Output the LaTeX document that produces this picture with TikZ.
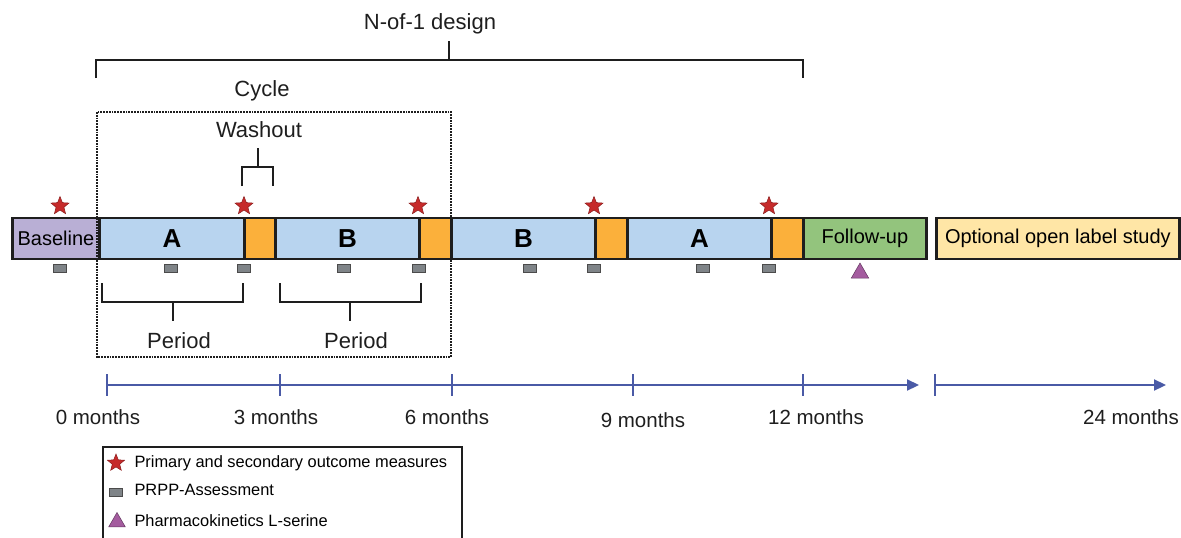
\documentclass[tikz,border=0pt]{standalone}
\usepackage{fontspec}
\setmainfont{Liberation Sans}
\usetikzlibrary{shapes.geometric,arrows.meta}

\definecolor{basecol}{HTML}{B9AFD5}
\definecolor{treatcol}{HTML}{B8D4EF}
\definecolor{washcol}{HTML}{FBB03B}
\definecolor{followcol}{HTML}{93C47D}
\definecolor{opencol}{HTML}{FFE6A6}
\definecolor{starcol}{HTML}{C62B2B}
\definecolor{prppcol}{HTML}{7F8488}
\definecolor{pkcol}{HTML}{A45C9F}
\definecolor{axiscol}{HTML}{4A5AA6}
\definecolor{inkcol}{HTML}{1E1E1E}

\tikzset{
  blk/.style={draw=inkcol, line width=2.8pt, minimum height=41, inner sep=0,
    anchor=west, font=\fontsize{20}{24}\selectfont},
  treat/.style={blk, fill=treatcol, font=\fontsize{26}{30}\selectfont\bfseries},
  wash/.style={blk, fill=washcol},
  outcome/.style={star, star points=5, star point ratio=2.3, minimum size=19,
    inner sep=0, fill=starcol, draw=starcol!70!black, line width=0.5pt},
  prpp/.style={rectangle, minimum width=13, minimum height=8, inner sep=0,
    fill=prppcol, draw=inkcol!80, line width=0.8pt},
  pk/.style={regular polygon, regular polygon sides=3, minimum size=20,
    inner sep=0, fill=pkcol, draw=pkcol!60!black, line width=0.5pt},
  brace/.style={draw=inkcol, line width=2pt},
  lbl/.style={font=\fontsize{22}{26}\selectfont, text=inkcol},
  axis/.style={draw=axiscol, line width=2.2pt},
  tick/.style={font=\fontsize{20.5}{24}\selectfont, text=inkcol}
}

\begin{document}
\begin{tikzpicture}[x=1pt,y=-1pt,line cap=butt,line join=miter]
\useasboundingbox (0,0) rectangle (1181,538);

% time bar
\node[blk, fill=basecol, minimum width=87] (base) at (11,238.5) {Baseline};
\node[treat, minimum width=145] (p1) at (98,238.5) {A};
\node[wash, minimum width=31] (w1) at (243,238.5) {};
\node[treat, minimum width=144] (p2) at (274,238.5) {B};
\node[wash, minimum width=32] (w2) at (418,238.5) {};
\node[treat, minimum width=144] (p3) at (450,238.5) {B};
\node[wash, minimum width=32] (w3) at (594,238.5) {};
\node[treat, minimum width=144] (p4) at (626,238.5) {A};
\node[wash, minimum width=32] (w4) at (770,238.5) {};
\node[blk, fill=followcol, minimum width=123] (fu) at (802,238.5) {\raisebox{4pt}{Follow-up}};
\node[blk, fill=opencol, minimum width=243] (ol) at (935,238.5) {Optional open label study};

% outcome measures
\foreach \x/\n in {60/s0,244/s1,418/s2,594/s3,769/s4}
  \node[outcome] (\n) at (\x,206) {};
% PRPP assessments
\foreach \x/\n in {60/q0,171/q1,244/q2,344/q3,419/q4,530/q5,594/q6,703/q7,769/q8}
  \node[prpp] (\n) at (\x,268) {};
% pharmacokinetics
\node[pk] (pk) at (860,273) {};

% N-of-1 bracket
\coordinate (nl) at (96,78);
\coordinate (nr) at (803,78);
\coordinate (nm) at (449,60);
\node[lbl] (ntext) at (430,24) {N-of-1 design};
\draw[brace] (nl) |- (nm) -| (nr);
\draw[brace] (nm) -- ++(0,-19);

% cycle box
\draw[inkcol, line width=1.8pt, densely dotted] (97,112) rectangle (451,357);
\node[lbl] (cyc) at (262,91) {Cycle};

% washout bracket
\node[lbl] (wtext) at (259,130) {Washout};
\coordinate (wl) at (242,186);
\coordinate (wr) at (273,186);
\coordinate (wm) at (258,167);
\draw[brace] (wl) |- (wm) -| (wr);
\draw[brace] (wm) -- ++(0,-19);

% period brackets
\foreach \l/\r/\m/\n in {102/243/173/per1,280/421/350/per2}{
  \draw[brace] (\l,283) |- (\m,302) -| (\r,283);
  \draw[brace] (\m,302) -- (\m,321);
  \node[lbl] (\n) at (\m+6,341) {Period};
}

% time axis
\coordinate (t0) at (107,385);
\coordinate (t3) at (280,385);
\coordinate (t6) at (452,385);
\coordinate (t9) at (633,385);
\coordinate (t12) at (803,385);
\coordinate (tend) at (919,385);
\coordinate (t24s) at (935,385);
\coordinate (t24e) at (1166,385);
\draw[axis, -{Triangle[length=12pt,width=11pt]}] (t0) -- (tend);
\draw[axis, -{Triangle[length=12pt,width=11pt]}] (t24s) -- (t24e);
\foreach \t in {t0,t3,t6,t9,t12,t24s}
  \draw[axis] (\t) ++(0,-11) -- ++(0,22);
\node[tick] (m0) at (98,417) {0 months};
\node[tick] (m3) at (276,417) {3 months};
\node[tick] (m6) at (447,417) {6 months};
\node[tick] (m9) at (643,420) {9 months};
\node[tick] (m12) at (816,417) {12 months};
\node[tick] (m24) at (1131,417) {24 months};

% legend
\draw[inkcol, line width=2pt] (103,447) rectangle (462,548);
\node[outcome, minimum size=18] (ls) at (116,463) {};
\node[prpp] (lq) at (116,492) {};
\node[pk, minimum size=19] (lp) at (117,522) {};
\node[anchor=west, font=\fontsize{16.4}{19}\selectfont] (lst) at (131,463) {Primary and secondary outcome measures};
\node[anchor=west, font=\fontsize{16.4}{19}\selectfont] (lqt) at (131,490) {PRPP-Assessment};
\node[anchor=west, font=\fontsize{16.4}{19}\selectfont] (lpt) at (131,521) {Pharmacokinetics L-serine};
\end{tikzpicture}
\end{document}
